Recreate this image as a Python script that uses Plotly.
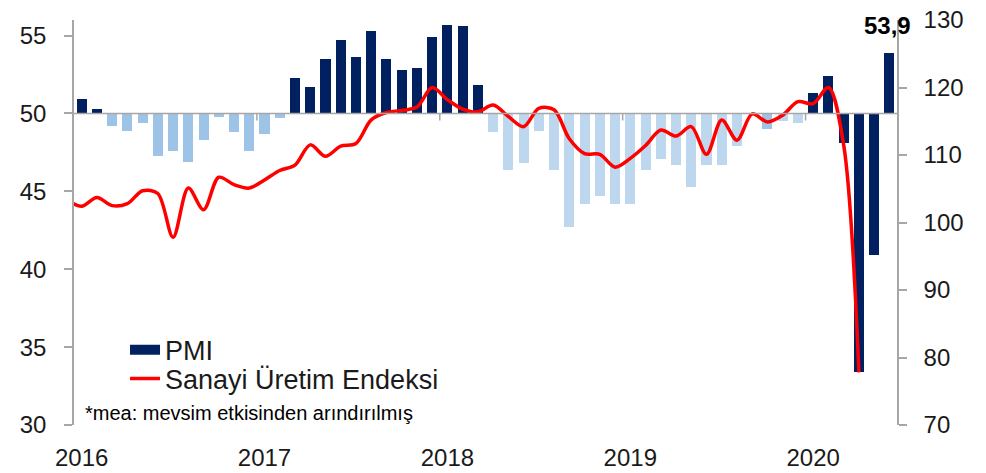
import pandas as pd
import plotly.graph_objects as go

# ---------------- data ----------------
months = pd.date_range("2016-01-01", "2020-06-01", freq="MS")
pmi = [
    50.9, 50.3, 49.2, 48.9, 49.4, 47.3, 47.6, 46.9, 48.3, 49.8, 48.8, 47.6,
    48.7, 49.7, 52.3, 51.7, 53.5, 54.7, 53.6, 55.3, 53.5, 52.8, 52.9, 54.9,
    55.7, 55.6, 51.8, 48.8, 46.4, 46.8, 48.9, 46.4, 42.7, 44.2, 44.7, 44.2,
    44.2, 46.4, 47.1, 46.7, 45.3, 46.7, 46.7, 47.9, 50.0, 49.0, 49.5, 49.4,
    51.3, 52.4, 48.1, 33.4, 40.9, 53.9,
]
ip_months = pd.date_range("2015-12-01", "2020-04-01", freq="MS")
ip = [
    103.4,
    102.4, 103.7, 102.5, 102.8, 104.7, 104.3, 97.8, 105.1, 101.9, 106.7, 105.6, 105.1,
    106.3, 107.7, 108.5, 111.5, 109.8, 111.3, 111.7, 115.2, 116.3, 116.6, 117.1, 120.0,
    118.2, 116.8, 116.4, 117.4, 115.7, 114.2, 116.9, 116.7, 112.4, 110.2, 110.1, 108.2,
    109.5, 111.4, 113.7, 112.8, 114.2, 110.1, 115.2, 112.2, 116.1, 114.9, 115.9, 117.9,
    117.6, 120.0, 111.5, 77.8,
]
pmi_name = "PMI"
ip_name = "Sanayi Üretim Endeksi"
footnote = "*mea: mevsim etkisinden arındırılmış"
threshold = 50
left_ticks = [30, 35, 40, 45, 50, 55]
right_ticks = [70, 80, 90, 100, 110, 120, 130]

# ---------------- styling ----------------
NAVY = "#002060"
LIGHT1 = "#9DC3E6"
LIGHT2 = "#BDD7EE"
RED = "#FF0000"
AXIS = "#A6A6A6"
FONT = "Liberation Sans"
TXT = "#1a1a1a"

start = months[0]
def idx(d):
    return (d.year - start.year) * 12 + (d.month - start.month)

x_bar = [idx(d) for d in months]
x_ip = [idx(d) for d in ip_months]

colors = []
for d, v in zip(months, pmi):
    if v >= threshold or d.year >= 2020:
        colors.append(NAVY)
    elif d.year < 2018 or (d.year == 2019 and d.month == 10):
        colors.append(LIGHT1)
    else:
        colors.append(LIGHT2)

fig = go.Figure()
fig.add_trace(go.Bar(
    x=x_bar, y=[v - threshold for v in pmi], base=threshold,
    marker=dict(color=colors, line=dict(width=0)), width=0.66,
    showlegend=False, yaxis="y",
))
# legend proxy for PMI (wide navy swatch)
fig.add_trace(go.Scatter(
    x=[None], y=[None], mode="lines", name=pmi_name,
    line=dict(color=NAVY, width=13), yaxis="y", legend="legend",
))
fig.add_trace(go.Scatter(
    x=x_ip, y=ip, mode="lines", name=ip_name,
    line=dict(color=RED, width=3.5, shape="spline", smoothing=0.9),
    yaxis="y2", legend="legend2",
))

jan_idx = [idx(d) for d in months if d.month == 1]
jan_lbl = [str(d.year) for d in months if d.month == 1]

shapes = [dict(type="line", xref="paper", x0=0, x1=1, yref="y", y0=threshold, y1=threshold,
               line=dict(color=AXIS, width=1.5), layer="above")]
for j in jan_idx[1:]:
    shapes.append(dict(type="line", xref="x", x0=j - 0.5, x1=j - 0.5, yref="y",
                       ysizemode="pixel", yanchor=threshold, y0=0, y1=-7,
                       line=dict(color=AXIS, width=1.5)))

last_v = pmi[-1]
annotations = [
    dict(x=x_bar[-1], y=last_v, xref="x", yref="y", text=f"<b>{last_v:.1f}</b>".replace(".", ","),
         showarrow=False, yanchor="bottom", xanchor="center", yshift=12, xshift=-2,
         font=dict(family=FONT, size=24, color="#000")),
    dict(x=0.011, y=0.03, xref="paper", yref="paper", text=footnote, showarrow=False,
         xanchor="left", yanchor="middle", font=dict(family=FONT, size=20, color="#000")),
]

legend_common = dict(xanchor="left", yanchor="middle", bgcolor="rgba(0,0,0,0)",
                     font=dict(size=27, family=FONT, color=TXT))

# The page body adds an 8px offset; figure size/margins compensate for it.
fig.update_layout(
    width=978, height=465,
    margin=dict(l=66, r=89, t=12, b=48, autoexpand=False),
    paper_bgcolor="white", plot_bgcolor="white",
    font=dict(family=FONT, color=TXT, size=24),
    bargap=0,
    xaxis=dict(range=[-0.5, len(months) - 0.5], tickvals=jan_idx, ticktext=jan_lbl,
               showline=False, showgrid=False, zeroline=False, ticks="",
               ticklabelstandoff=16, tickfont=dict(size=24)),
    yaxis=dict(range=[30, 56], tickvals=left_ticks, showline=True,
               linecolor=AXIS, linewidth=1.5, ticks="outside", ticklen=8, tickcolor=AXIS,
               tickwidth=1.5, showgrid=False, zeroline=False, ticklabelstandoff=13,
               ticklabeloverflow="allow", tickfont=dict(size=24)),
    yaxis2=dict(range=[70, 130], tickvals=right_ticks, overlaying="y", side="right", showline=True,
                linecolor=AXIS, linewidth=1.5, ticks="outside", ticklen=8, tickcolor=AXIS,
                tickwidth=1.5, showgrid=False, zeroline=False, ticklabelstandoff=12,
                ticklabeloverflow="allow", tickfont=dict(size=24)),
    legend=dict(x=0.062, y=0.185, **legend_common),
    legend2=dict(x=0.062, y=0.114, **legend_common),
    shapes=shapes, annotations=annotations,
)

fig.write_html("out.html")
